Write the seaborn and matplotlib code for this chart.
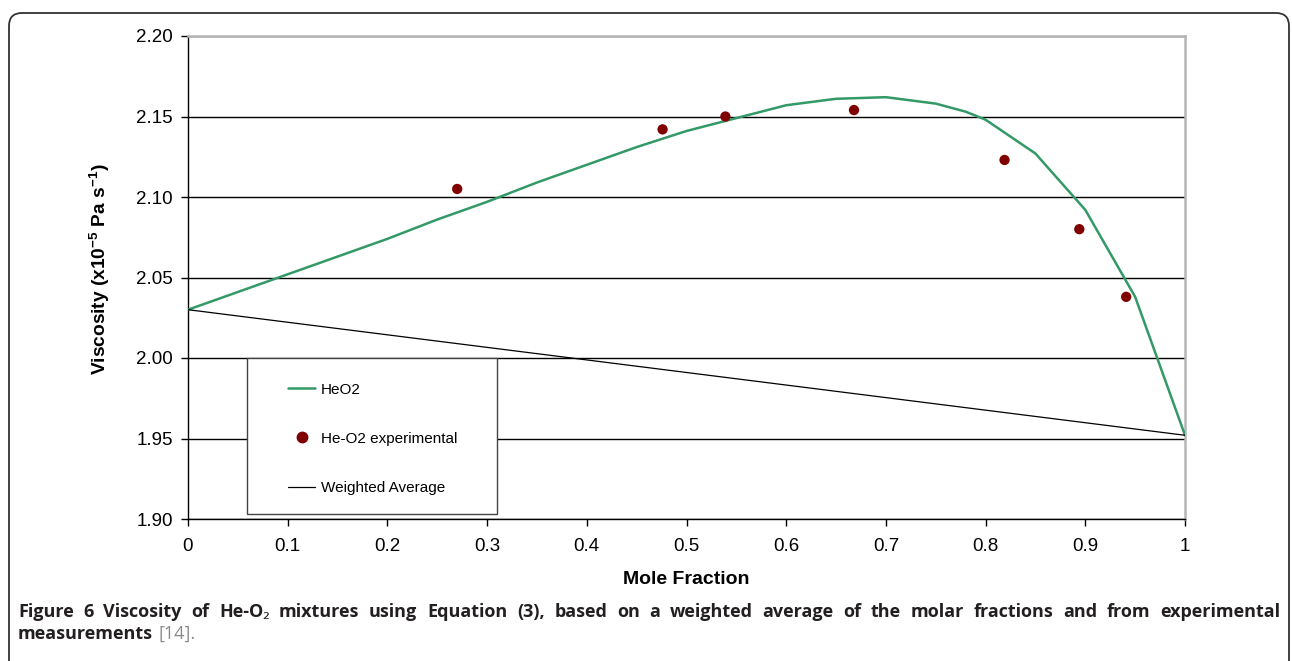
import matplotlib
matplotlib.use("Agg")
import matplotlib.pyplot as plt
from matplotlib.patches import FancyBboxPatch, Rectangle
from matplotlib.lines import Line2D
import pandas as pd
import seaborn as sns

# Data
mole_fraction = [0.0, 0.05, 0.10, 0.15, 0.20, 0.25, 0.30, 0.35, 0.40, 0.45, 0.50,
                 0.55, 0.60, 0.65, 0.70, 0.75, 0.78, 0.80, 0.85, 0.90, 0.95, 1.0]
heo2_viscosity = [2.030, 2.041, 2.052, 2.063, 2.074, 2.086, 2.097, 2.109, 2.120, 2.131, 2.141,
                  2.149, 2.157, 2.161, 2.162, 2.158, 2.153, 2.148, 2.127, 2.092, 2.038, 1.952]

exp_fraction = [0.270, 0.476, 0.539, 0.668, 0.819, 0.894, 0.941]
exp_viscosity = [2.105, 2.142, 2.150, 2.154, 2.123, 2.080, 2.038]

wavg_fraction = [0.0, 1.0]
wavg_viscosity = [2.030, 1.952]

x_ticks = [0, 0.1, 0.2, 0.3, 0.4, 0.5, 0.6, 0.7, 0.8, 0.9, 1.0]
x_tick_labels = ["0", "0.1", "0.2", "0.3", "0.4", "0.5", "0.6", "0.7", "0.8", "0.9", "1"]
y_ticks = [1.90, 1.95, 2.00, 2.05, 2.10, 2.15, 2.20]

caption_line1 = ["Figure", "6", "Viscosity", "of", "He-O\u2082", "mixtures", "using", "Equation",
                 "(3),", "based", "on", "a", "weighted", "average", "of", "the", "molar",
                 "fractions", "and", "from", "experimental"]
caption_line2 = "measurements"
caption_ref = "[14]."

GREEN = "#339966"
DARK_RED = "#800000"
W, H = 1292, 661

sns.set_style("white")
plt.rcParams['font.family'] = ['Liberation Sans', 'DejaVu Sans']
plt.rcParams['text.color'] = 'black'
plt.rcParams['axes.labelcolor'] = 'black'
plt.rcParams['mathtext.fontset'] = 'custom'
plt.rcParams['mathtext.rm'] = 'Liberation Sans'
plt.rcParams['mathtext.bf'] = 'Liberation Sans:bold'

fig = plt.figure(figsize=(W / 100, H / 100), dpi=100)
ax = fig.add_axes([188 / W, 1 - 519 / H, 997 / W, 483 / H])

curve = pd.DataFrame({"x": mole_fraction, "y": heo2_viscosity})
exp = pd.DataFrame({"x": exp_fraction, "y": exp_viscosity})
wavg = pd.DataFrame({"x": wavg_fraction, "y": wavg_viscosity})

sns.lineplot(data=curve, x="x", y="y", ax=ax, color=GREEN, lw=1.8, zorder=4)
sns.lineplot(data=wavg, x="x", y="y", ax=ax, color="black", lw=0.9, zorder=4)
sns.scatterplot(data=exp, x="x", y="y", ax=ax, color=DARK_RED, s=55, edgecolor="none", zorder=5)

ax.set_xlim(0, 1)
ax.set_ylim(1.90, 2.20)
ax.set_xticks(x_ticks)
ax.set_xticklabels(x_tick_labels)
ax.set_yticks(y_ticks)
ax.set_yticklabels([f"{v:.2f}" for v in y_ticks])

ax.set_axisbelow(True)
ax.yaxis.grid(True, color="black", lw=1)
ax.xaxis.grid(False)
for side in ["left", "bottom"]:
    ax.spines[side].set_color("black")
    ax.spines[side].set_linewidth(1)
for side in ["top", "right"]:
    ax.spines[side].set_color("#b5b5b5")
    ax.spines[side].set_linewidth(1.8)

ax.tick_params(axis="both", bottom=True, left=True, direction="out", length=5, width=1,
               color="black", labelsize=13.5, pad=6, labelcolor="black")
ax.tick_params(axis="x", pad=9)

ax.set_xlabel("Mole Fraction", fontsize=14, fontweight="bold", color="black")
ax.xaxis.set_label_coords(0.5, -0.108)
ax.set_ylabel(r"Viscosity (x10$^{\mathbf{-5}}$ Pa s$^{\mathbf{-1}}$)", fontsize=13.8,
              fontweight="bold", color="black")
ax.yaxis.set_label_coords(-0.076, 0.518)

# legend box (Excel style)
ax.add_patch(Rectangle((0.059, 0.0104), 0.251, 0.3226, transform=ax.transAxes,
                       facecolor="white", edgecolor="#444444", lw=1, zorder=3))
handles = [
    Line2D([], [], color=GREEN, lw=1.8),
    Line2D([], [], color=DARK_RED, marker="o", ls="none", markersize=7.5),
    Line2D([], [], color="black", lw=0.9),
]
leg = ax.legend(handles, ["HeO2", "He-O2 experimental", "Weighted Average"],
                loc="upper left", bbox_to_anchor=(0.093, 0.298), frameon=False,
                borderpad=0, labelspacing=2.3, handlelength=1.75, handletextpad=0.4,
                fontsize=11)
for t in leg.get_texts():
    t.set_color("black")
leg.set_zorder(6)

# rounded outer border
fig.add_artist(FancyBboxPatch((0.09, -0.5), 12.80, 6.48 + 0.5,
                              boxstyle="round,pad=0,rounding_size=0.13",
                              transform=fig.dpi_scale_trans, fill=False,
                              edgecolor="#333333", lw=1.3, clip_on=False))

# caption, justified on the first line
renderer = fig.canvas.get_renderer()
cap_font = dict(family=["Open Sans", "Noto Sans", "DejaVu Sans"], fontsize=13,
                fontweight="bold", color="#231f20", va="baseline")

arts = [fig.text(0, 1 - 617 / H, w, **cap_font) for w in caption_line1]
widths = [a.get_window_extent(renderer).width for a in arts]
gap = (1280 - 18 - sum(widths)) / (len(arts) - 1)
x = 18
for a, w in zip(arts, widths):
    a.set_x(x / W)
    x += w + gap

t2 = fig.text(18 / W, 1 - 639 / H, caption_line2, **cap_font)
w2 = t2.get_window_extent(renderer).width
ref_font = dict(cap_font, fontweight="normal", color="#8a8a8a")
fig.text((18 + w2 + 5) / W, 1 - 639 / H, caption_ref, **ref_font)

fig.savefig("out.png", dpi=100)
